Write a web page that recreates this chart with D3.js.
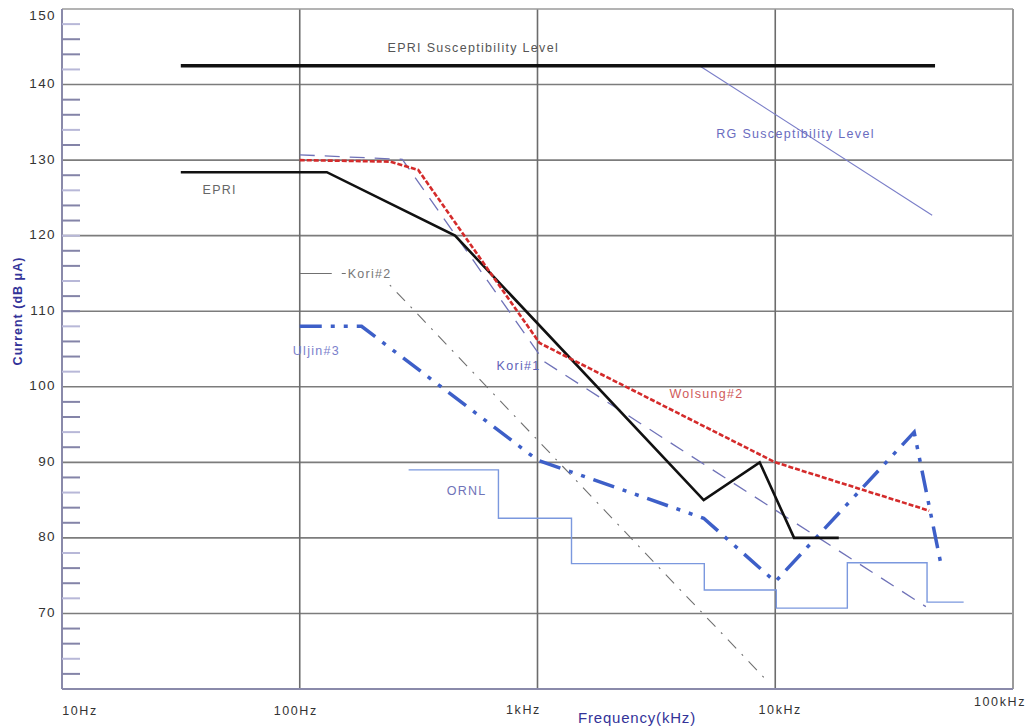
<!DOCTYPE html>
<html>
<head>
<meta charset="utf-8">
<script src="https://cdn.jsdelivr.net/npm/d3@7"></script>
<style>
  html, body { margin: 0; padding: 0; background: #fff; }
  svg { display: block; font-family: "Liberation Sans", Arial, sans-serif; }
</style>
</head>
<body>
<svg id="chart" width="1029" height="727"></svg>
<script>
// ---- data (frequency in Hz, current in dB µA) ----
const xTickValues = [10, 100, 1000, 10000, 100000];
const xTickLabels = ["10Hz", "100Hz", "1kHz", "10kHz", "100kHz"];
const yTickValues = [70, 80, 90, 100, 110, 120, 130, 140, 150];
const yMinorTicks = d3.range(62, 150, 2);

const epriSuscept = [[31.6, 142.5], [47000, 142.5]];
const rgSuscept   = [[4800, 142.5], [45700, 122.7]];
const epri        = [[31.6, 128.4], [130, 128.4], [450, 120], [5000, 85], [8600, 90], [12000, 80], [18500, 80]];
const wolsung2    = [[100, 130], [240, 129.8], [315, 128.7], [1020, 105.8], [1360, 103.8], [10000, 90], [44400, 83.6]];
const kori1       = [[100, 130.7], [270, 130.1], [1070, 103.3], [43000, 70.9]];
const kori2       = [[100, 115], [215, 115], [9160, 61.2]];
const uljin3      = [[100, 108], [182, 108], [1000, 90.3], [5000, 82.6], [10000, 74.2], [38400, 94], [50300, 75.8]];
const ornl        = [[287, 89], [685, 82.6], [1390, 76.6], [5030, 73.1], [10100, 70.7], [20100, 76.7], [43500, 71.5], [62000, 71.5]];

const seriesLabels = [
  {text: "EPRI Susceptibility Level", f: 234, v: 144.7, color: "#555"},
  {text: "RG Susceptibility Level",   f: 5650, v: 133.3, color: "#6a6cc0"},
  {text: "EPRI",                      f: 39,  v: 125.9, color: "#666"},
  {text: "Kori#2",                    f: 159, v: 114.8, color: "#777", halo: true},
  {text: "Uljin#3",                   f: 93.5, v: 104.6, color: "#7b7fcc"},
  {text: "Kori#1",                    f: 673, v: 102.6, color: "#5e62b8"},
  {text: "Wolsung#2",                 f: 3590, v: 98.9, color: "#d05a5a"},
  {text: "ORNL",                      f: 415, v: 86.1, color: "#6f73b8"}
];

// ---- layout ----
const svg = d3.select("#chart");
const x = d3.scaleLog().domain([10, 100000]).range([62, 1013]);
const y = d3.scaleLinear().domain([60, 150]).range([689, 9]);
const xLabelDx = [18, -4, -14, 5, -13];
const xLabelY  = [712, 712, 711, 711, 703];

svg.append("rect").attr("width", 1029).attr("height", 727).attr("fill", "#fff");

// grid
const grid = svg.append("g");
grid.selectAll("line.h").data(yTickValues.filter(v => v < 150)).join("line")
  .attr("x1", x(10)).attr("x2", x(100000))
  .attr("y1", d => y(d)).attr("y2", d => y(d))
  .attr("stroke", "#7c7c7c").attr("stroke-width", 1.6);
grid.selectAll("line.v").data([100, 1000, 10000]).join("line")
  .attr("x1", d => x(d)).attr("x2", d => x(d))
  .attr("y1", y(150)).attr("y2", y(60))
  .attr("stroke", "#6c6c6c").attr("stroke-width", 1.6);
// frame
grid.append("line").attr("x1", x(10)).attr("x2", x(100000)).attr("y1", y(150)).attr("y2", y(150))
  .attr("stroke", "#9a9a9a").attr("stroke-width", 1.6);
grid.append("line").attr("x1", x(100000)).attr("x2", x(100000)).attr("y1", y(150)).attr("y2", y(60))
  .attr("stroke", "#9a9a9a").attr("stroke-width", 2);
grid.append("line").attr("x1", x(10)).attr("x2", x(100000)).attr("y1", y(60)).attr("y2", y(60))
  .attr("stroke", "#8a8aaa").attr("stroke-width", 2);
grid.append("line").attr("x1", x(10)).attr("x2", x(10)).attr("y1", y(150)).attr("y2", y(60))
  .attr("stroke", "#8a8aaa").attr("stroke-width", 2);

// minor ticks on y axis
grid.selectAll("line.m").data(yMinorTicks.filter(v => v % 10 !== 0 || v === 110 || v === 120)).join("line")
  .attr("x1", x(10)).attr("x2", x(10) + 18)
  .attr("y1", d => y(d)).attr("y2", d => y(d))
  .attr("stroke", (d, i) => i % 3 === 1 ? "#b8b8d8" : "#8484a8").attr("stroke-width", 2);

// y tick labels
svg.append("g").selectAll("text").data(yTickValues).join("text")
  .attr("x", 56).attr("y", d => Math.max(y(d), 16))
  .attr("dominant-baseline", "middle").attr("text-anchor", "end")
  .attr("font-size", 13.5).attr("letter-spacing", 1.4).attr("fill", "#333")
  .text(d => d);

// x tick labels
svg.append("g").selectAll("text").data(xTickValues).join("text")
  .attr("x", (d, i) => x(d) + xLabelDx[i]).attr("y", (d, i) => xLabelY[i])
  .attr("dominant-baseline", "middle").attr("text-anchor", "middle")
  .attr("font-size", 12.5).attr("letter-spacing", 1.6).attr("fill", "#333")
  .text((d, i) => xTickLabels[i]);

// axis titles
svg.append("text").attr("x", 637).attr("y", 719)
  .attr("dominant-baseline", "middle").attr("text-anchor", "middle")
  .attr("font-size", 15).attr("letter-spacing", 0.8).attr("fill", "#333399")
  .text("Frequency(kHz)");
svg.append("text").attr("transform", "translate(19,311) rotate(-90)")
  .attr("dominant-baseline", "middle").attr("text-anchor", "middle")
  .attr("font-size", 12.5).attr("font-weight", "bold").attr("letter-spacing", 1).attr("fill", "#333399")
  .text("Current (dB μA)");

// lines
const line = d3.line().x(d => x(d[0])).y(d => y(d[1]));
const stepLine = d3.line().x(d => x(d[0])).y(d => y(d[1])).curve(d3.curveStepAfter);
const g = svg.append("g").attr("fill", "none");

g.append("path").datum(ornl).attr("d", stepLine)
  .attr("stroke", "#7b98de").attr("stroke-width", 1.4);
g.append("path").datum(rgSuscept).attr("d", line)
  .attr("stroke", "#7a7ec8").attr("stroke-width", 1.1);
// Kori#2: flat start drawn with a long first dash, sloped part dash-dot
g.append("path").datum(kori2.slice(0, 2)).attr("d", line)
  .attr("stroke", "#707070").attr("stroke-width", 1.1).attr("stroke-dasharray", "32,10,4,400");
g.append("path").datum(kori2.slice(1)).attr("d", line)
  .attr("stroke", "#707070").attr("stroke-width", 1.1).attr("stroke-dasharray", "12,8,2,8")
  .attr("stroke-dashoffset", 4);
g.append("path").datum(kori1).attr("d", line)
  .attr("stroke", "#6f72b8").attr("stroke-width", 1.3).attr("stroke-dasharray", "15,10");
g.append("path").datum(uljin3).attr("d", line)
  .attr("stroke", "#3d5fc8").attr("stroke-width", 3.5).attr("stroke-dasharray", "22,9,4,9,4,9");
g.append("path").datum(epri).attr("d", line)
  .attr("stroke", "#111").attr("stroke-width", 2.6).attr("stroke-linejoin", "miter");
g.append("path").datum(wolsung2).attr("d", line)
  .attr("stroke", "#d42b2b").attr("stroke-width", 2.6).attr("stroke-dasharray", "5,2");
g.append("path").datum(epriSuscept).attr("d", line)
  .attr("stroke", "#111").attr("stroke-width", 3.5);

// series labels
svg.append("g").selectAll("text").data(seriesLabels).join("text")
  .attr("x", d => x(d.f)).attr("y", d => y(d.v))
  .attr("dominant-baseline", "middle")
  .attr("font-size", 12.5).attr("letter-spacing", 1.3)
  .attr("fill", d => d.color)
  .attr("stroke", d => d.halo ? "#fff" : "none").attr("stroke-width", d => d.halo ? 4 : 0)
  .attr("paint-order", "stroke")
  .text(d => d.text);
</script>
</body>
</html>
